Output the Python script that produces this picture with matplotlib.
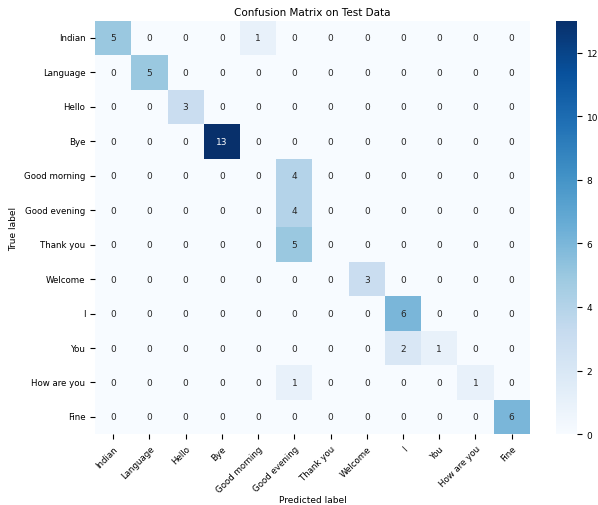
import numpy as np
import seaborn as sns
from matplotlib import pyplot as plt

labels = ["Indian", "Language", "Hello", "Bye", "Good morning", "Good evening",
          "Thank you", "Welcome", "I", "You", "How are you", "Fine"]

# rows = true label, cols = predicted label
cm = np.array([
    [5, 0, 0, 0, 1, 0, 0, 0, 0, 0, 0, 0],
    [0, 5, 0, 0, 0, 0, 0, 0, 0, 0, 0, 0],
    [0, 0, 3, 0, 0, 0, 0, 0, 0, 0, 0, 0],
    [0, 0, 0, 13, 0, 0, 0, 0, 0, 0, 0, 0],
    [0, 0, 0, 0, 0, 4, 0, 0, 0, 0, 0, 0],
    [0, 0, 0, 0, 0, 4, 0, 0, 0, 0, 0, 0],
    [0, 0, 0, 0, 0, 5, 0, 0, 0, 0, 0, 0],
    [0, 0, 0, 0, 0, 0, 0, 3, 0, 0, 0, 0],
    [0, 0, 0, 0, 0, 0, 0, 0, 6, 0, 0, 0],
    [0, 0, 0, 0, 0, 0, 0, 0, 2, 1, 0, 0],
    [0, 0, 0, 0, 0, 1, 0, 0, 0, 0, 1, 0],
    [0, 0, 0, 0, 0, 0, 0, 0, 0, 0, 0, 6],
])

fig = plt.figure(figsize=(5.98, 5.06), dpi=100)
ax = fig.add_axes([0.159, 0.140, 0.727, 0.817])
cax = fig.add_axes([0.930, 0.140, 0.035, 0.817])

sns.heatmap(cm, annot=True, fmt="d", cmap="Blues", ax=ax, cbar_ax=cax,
            xticklabels=labels, yticklabels=labels,
            annot_kws={"fontsize": 6.5})

ax.set_title("Confusion Matrix on Test Data", fontsize=7.5, pad=4)
ax.set_xlabel("Predicted label", fontsize=6.5)
ax.set_ylabel("True label", fontsize=6.5)
ax.xaxis.set_label_coords(0.5, -0.148)
ax.tick_params(labelsize=6.2)
plt.setp(ax.get_xticklabels(), rotation=45, ha="right", rotation_mode="anchor")
plt.setp(ax.get_yticklabels(), rotation=0)
cax.tick_params(labelsize=6.5)

fig.savefig("out.png", dpi=100)
